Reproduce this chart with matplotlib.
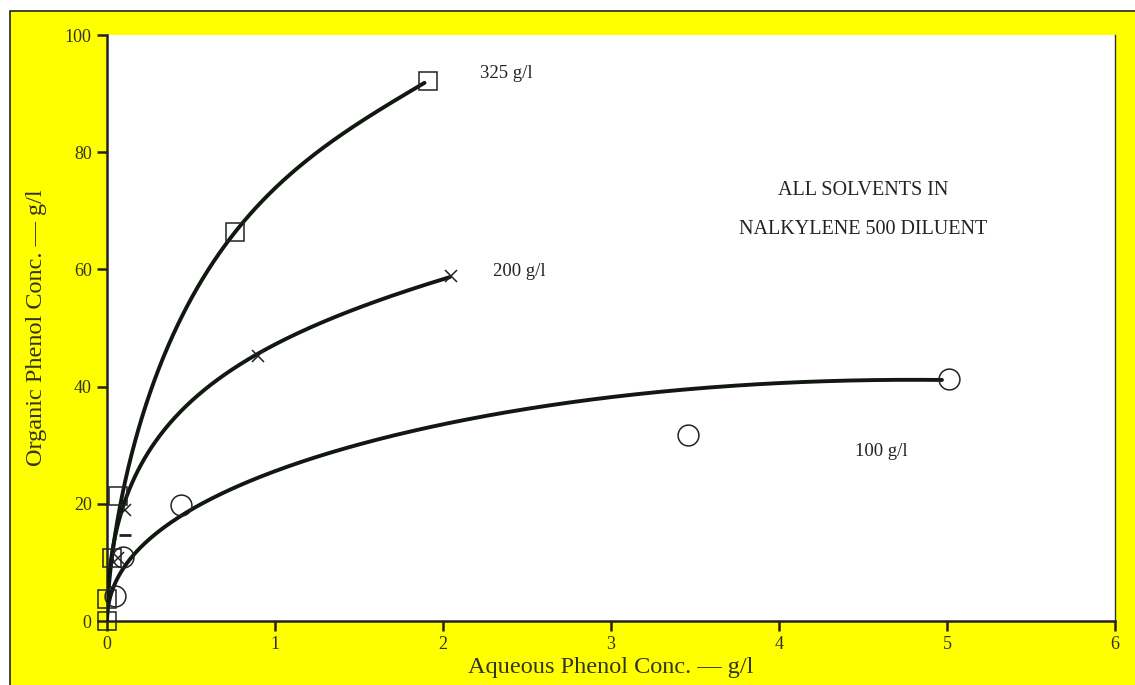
import numpy as np
import matplotlib
matplotlib.use("Agg")
import matplotlib.pyplot as plt
from matplotlib.patches import Rectangle

# Measured equilibrium points (aqueous g/l, organic g/l)
sq_x = [0.0, 0.0, 0.03, 0.066, 0.76, 1.91]
sq_y = [0.0, 3.8, 10.8, 21.3, 66.3, 92.2]

x200_x = [0.066, 0.107, 0.90, 2.05]
x200_y = [10.8, 19.0, 45.3, 58.8]
dash_x = [0.107]
dash_y = [14.7]

ci_x = [0.045, 0.095, 0.44, 3.46, 5.01]
ci_y = [4.2, 10.9, 19.8, 31.8, 41.3]

# Hand-fitted isotherm curves
c325_x = [0.0, 0.006, 0.036, 0.087, 0.137, 0.255, 0.45, 0.76, 0.95, 1.35, 1.89]
c325_y = [0.0, 3.0, 12.0, 20.5, 29.0, 39.3, 50.8, 66.3, 73.0, 82.0, 91.8]

c200_x = [0.0, 0.036, 0.107, 0.20, 0.36, 0.55, 0.89, 1.55, 2.04]
c200_y = [0.0, 12.0, 21.0, 26.8, 33.0, 38.8, 45.3, 54.2, 58.6]

c100_x = [0.0, 0.006, 0.036, 0.107, 0.256, 0.52, 0.85, 1.25, 1.65, 2.04, 2.64, 3.24, 3.83, 4.97]
c100_y = [0.0, 2.2, 5.6, 9.7, 14.0, 19.1, 23.9, 28.0, 31.3, 33.8, 37.1, 38.8, 40.2, 41.2]

x_ticks = [0, 1, 2, 3, 4, 5, 6]
y_ticks = [0, 20, 40, 60, 80, 100]


def smooth_curve(xs, ys, deg=4, n=400):
    """Smooth trend line through the curve points, fitted in sqrt(x)."""
    x = np.asarray(xs, float)
    y = np.asarray(ys, float)
    u = np.sqrt(x)
    coef = np.polyfit(u, y, deg)
    uu = np.linspace(0, u[-1], n)
    return uu**2, np.polyval(coef, uu)


plt.rcParams['font.family'] = ['Liberation Serif', 'DejaVu Serif']

fig = plt.figure(figsize=(11.35, 6.85), dpi=100, facecolor='white')
fig.patches.append(Rectangle((10 / 1135, -0.01), 1.02, 1 - 11 / 685 + 0.01,
                             transform=fig.transFigure, facecolor='#ffff00',
                             edgecolor='#222222', linewidth=1.2, zorder=-10))

ax = fig.add_axes([107 / 1135, 1 - 621 / 685, (1115 - 107) / 1135, (621 - 35) / 685])
ax.set_zorder(5)
ax.set_facecolor('white')
ax.set_xlim(0, 6)
ax.set_ylim(0, 100)

line_kw = dict(color='#101810', linewidth=2.8, solid_capstyle='round', zorder=3)
for cx, cy in [(c325_x, c325_y), (c200_x, c200_y), (c100_x, c100_y)]:
    px, py = smooth_curve(cx, cy)
    ax.plot(px, py, **line_kw)

ax.plot(sq_x, sq_y, linestyle='none', marker='s', markersize=13,
        markerfacecolor='none', markeredgecolor='#222222', markeredgewidth=1.1,
        zorder=4, clip_on=False)
ax.plot(x200_x, x200_y, linestyle='none', marker='x', markersize=9,
        markeredgecolor='#222222', markeredgewidth=1.1, zorder=4, clip_on=False)
ax.plot(dash_x, dash_y, linestyle='none', marker='_', markersize=8,
        markeredgecolor='#222222', markeredgewidth=2.0, zorder=4, clip_on=False)
ax.plot(ci_x, ci_y, linestyle='none', marker='o', markersize=15,
        markerfacecolor='none', markeredgecolor='#222222', markeredgewidth=1.1,
        zorder=4, clip_on=False)

lab_kw = dict(fontsize=13.5, color='#222222')
ax.text(2.22, 93.5, '325 g/l', ha='left', va='center', **lab_kw)
ax.text(2.30, 59.7, '200 g/l', ha='left', va='center', **lab_kw)
ax.text(4.45, 28.9, '100 g/l', ha='left', va='center', **lab_kw)
note_kw = dict(fontsize=14.5, color='#222222')
ax.text(4.50, 73.5, 'ALL SOLVENTS IN', ha='center', va='center', **note_kw)
ax.text(4.50, 66.8, 'NALKYLENE 500 DILUENT', ha='center', va='center', **note_kw)

ax.set_xticks(x_ticks)
ax.set_yticks(y_ticks)
ax.set_xticklabels([str(v) for v in x_ticks])
ax.set_yticklabels([str(v) for v in y_ticks])
ax.tick_params(direction='out', length=7, width=1.8, color='#222222',
               labelsize=13, labelcolor='#333322', pad=4)

ax.set_xlabel('Aqueous Phenol Conc. — g/l', fontsize=17.5, color='#333322', labelpad=3)
ax.set_ylabel('Organic Phenol Conc. — g/l', fontsize=17.5, color='#333322', labelpad=13)

for side in ['left', 'bottom']:
    ax.spines[side].set_linewidth(1.8)
    ax.spines[side].set_color('#222222')
ax.spines['right'].set_linewidth(1.0)
ax.spines['right'].set_color('#333333')
ax.spines['top'].set_visible(False)

fig.savefig('out.png', dpi=100, facecolor=fig.get_facecolor())
